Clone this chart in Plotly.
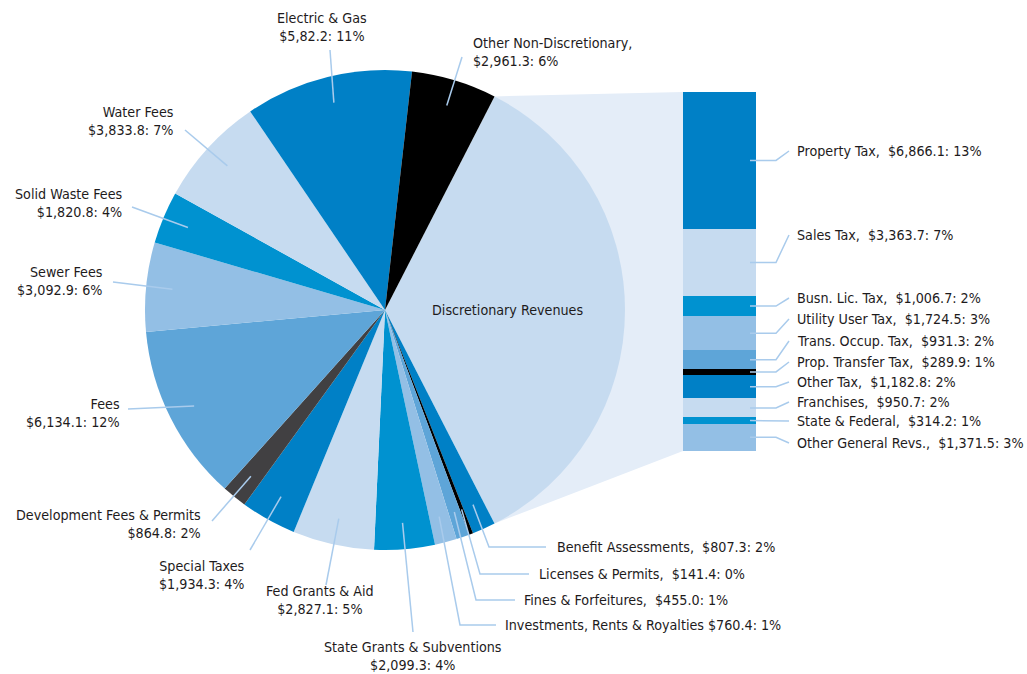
import math
import plotly.graph_objects as go

W, H = 1027, 674

# ---------------- data ----------------
pie_labels = ["Discretionary Revenues", "Benefit Assessments", "Licenses & Permits",
              "Fines & Forfeitures", "Investments, Rents & Royalties",
              "State Grants & Subventions", "Fed Grants & Aid", "Special Taxes",
              "Development Fees & Permits", "Fees", "Sewer Fees", "Solid Waste Fees",
              "Water Fees", "Electric & Gas", "Other Non-Discretionary"]
pie_nondisc_values = [807.3, 141.4, 455.0, 760.4, 2099.3, 2827.1, 1934.3, 864.8,
                      6134.1, 3092.9, 1820.8, 3833.8, 5820.0, 2961.3]
pie_texts = ["Benefit Assessments,  $807.3: 2%", "Licenses & Permits,  $141.4: 0%",
             "Fines & Forfeitures,  $455.0: 1%", "Investments, Rents & Royalties $760.4: 1%",
             "State Grants & Subventions<br>$2,099.3: 4%", "Fed Grants & Aid<br>$2,827.1: 5%",
             "Special Taxes<br>$1,934.3: 4%", "Development Fees & Permits<br>$864.8: 2%",
             "Fees<br>$6,134.1: 12%", "Sewer Fees<br>$3,092.9: 6%",
             "Solid Waste Fees<br>$1,820.8: 4%", "Water Fees<br>$3,833.8: 7%",
             "Electric & Gas<br>$5,82.2: 11%", "Other Non-Discretionary,<br>$2,961.3: 6%"]

bar_labels = ["Property Tax", "Sales Tax", "Busn. Lic. Tax", "Utility User Tax",
              "Trans. Occup. Tax", "Prop. Transfer Tax", "Other Tax", "Franchises",
              "State & Federal", "Other General Revs."]
bar_values = [6866.1, 3363.7, 1006.7, 1724.5, 931.3, 289.9, 1182.8, 950.7, 314.2, 1371.5]
bar_texts = ["Property Tax,  $6,866.1: 13%", "Sales Tax,  $3,363.7: 7%",
             "Busn. Lic. Tax,  $1,006.7: 2%", "Utility User Tax,  $1,724.5: 3%",
             "Trans. Occup. Tax,  $931.3: 2%", "Prop. Transfer Tax,  $289.9: 1%",
             "Other Tax,  $1,182.8: 2%", "Franchises,  $950.7: 2%",
             "State & Federal,  $314.2: 1%", "Other General Revs.,  $1,371.5: 3%"]

# ---------------- styles ----------------
C_DARK = "#0080c6"
C_LIGHT = "#c6dbf0"
C_CYAN = "#0092d0"
C_SKY = "#93bfe5"
C_MED = "#5ea5d8"
pie_colors = [C_LIGHT, C_DARK, "#000000", C_MED, C_SKY, C_CYAN, C_LIGHT, C_DARK,
              "#414042", C_MED, C_SKY, C_CYAN, C_LIGHT, C_DARK, "#000000"]
bar_colors = [C_DARK, C_LIGHT, C_CYAN, C_SKY, C_MED, "#000000", C_DARK, C_LIGHT, C_CYAN, C_SKY]
LINE_C = "#a9cbec"
TXT_C = "#1e1b1c"
FONT = "DejaVu Sans Condensed, Liberation Sans Narrow, Arial Narrow, sans-serif"
FS = 14.2

# geometry (pixels)
CX, CY, R = 385, 310, 240
BX0, BX1, BY0, BY1 = 683, 756, 92, 451

def px(x):
    return x / W

def py(y):
    return 1 - y / H

disc_total = sum(bar_values)
pie_values = [disc_total] + pie_nondisc_values
total = sum(pie_values)
disc_deg = disc_total / total * 360
rotation = 90 - disc_deg / 2

fig = go.Figure()

# connector polygon between pie and bar
a0 = math.radians(rotation)
a1 = math.radians(rotation + disc_deg)
p0 = (CX + R * math.sin(a0), CY - R * math.cos(a0))
p1 = (CX + R * math.sin(a1), CY - R * math.cos(a1))
shapes = [dict(type="path", xref="paper", yref="paper", layer="below",
               path=f"M {px(p0[0])},{py(p0[1])} L {px(BX0)},{py(BY0)} L {px(BX0)},{py(BY1)} "
                    f"L {px(p1[0])},{py(p1[1])} Z",
               fillcolor="#e4edf8", line=dict(width=0))]

fig.add_trace(go.Pie(
    labels=pie_labels, values=pie_values, sort=False, direction="clockwise",
    rotation=rotation, textinfo="none", hoverinfo="label+value",
    marker=dict(colors=pie_colors, line=dict(width=0)),
    domain=dict(x=[px(CX - R), px(CX + R)], y=[py(CY + R), py(CY - R)]),
    showlegend=False))

for lab, val, col in zip(bar_labels, bar_values, bar_colors):
    fig.add_trace(go.Bar(x=[0], y=[val], name=lab, marker=dict(color=col, line=dict(width=0)),
                         showlegend=False, hoverinfo="name+y"))

annotations = []

def line_path(pts):
    d = "M " + " L ".join(f"{px(x)},{py(y)}" for x, y in pts)
    return dict(type="path", xref="paper", yref="paper", path=d,
                line=dict(color=LINE_C, width=1.5), layer="above")

# pie labels: (text anchor x, y, xanchor, align, line end, bend)
pie_label_pos = [
    (555, 547, "left", "left", (546, 547), (489, 547)),
    (537, 574, "left", "left", (529, 574), (480, 574)),
    (522, 600, "left", "left", (515, 600), (476, 600)),
    (503, 625, "left", "left", (496, 625), (460, 625)),
    (413, 656, "center", "center", (413, 632), None),
    (320, 600, "center", "center", (326, 585), None),
    (202, 575, "center", "center", (250, 550), None),
    (203, 524, "right", "right", (212, 521), None),
    (122, 413, "right", "right", (128, 409), None),
    (105, 281, "right", "right", (113, 282), None),
    (125, 203, "right", "right", (132, 207), None),
    (176, 121, "right", "right", (185, 130), None),
    (322, 27, "center", "center", (330, 50), None),
    (471, 52, "left", "left", (462, 57), None),
]

cum = disc_total
for txt, val, pos in zip(pie_texts, pie_nondisc_values, pie_label_pos):
    mid = rotation + (cum + val / 2) / total * 360
    cum += val
    am = math.radians(mid)
    ra = R * 0.89
    anchor = (CX + ra * math.sin(am), CY - ra * math.cos(am))
    x, y, xa, al, end, bend = pos
    pts = [anchor] + ([bend] if bend else []) + [end]
    shapes.append(line_path(pts))
    annotations.append(dict(x=px(x), y=py(y), xref="paper", yref="paper", text=txt,
                            showarrow=False, xanchor=xa, yanchor="middle", align=al,
                            font=dict(family=FONT, size=FS, color=TXT_C)))

# bar labels
bar_label_y = [151, 235, 298, 319, 341, 362, 382, 402, 421, 443]
c = 0
for txt, val, ly in zip(bar_texts, bar_values, bar_label_y):
    ymid = BY0 + (c + val / 2) / disc_total * (BY1 - BY0)
    c += val
    if abs(ymid - ly) < 2:
        pts = [(750, ymid), (789, ly)]
    else:
        pts = [(750, ymid), (776, ymid), (789, ly)]
    shapes.append(line_path(pts))
    annotations.append(dict(x=px(795), y=py(ly), xref="paper", yref="paper", text=txt,
                            showarrow=False, xanchor="left", yanchor="middle", align="left",
                            font=dict(family=FONT, size=FS, color=TXT_C)))

annotations.append(dict(x=px(507), y=py(310), xref="paper", yref="paper",
                        text="Discretionary Revenues", showarrow=False,
                        xanchor="center", yanchor="middle",
                        font=dict(family=FONT, size=FS, color=TXT_C)))

fig.update_layout(
    width=W, height=H, margin=dict(l=0, r=0, t=0, b=0),
    paper_bgcolor="white", plot_bgcolor="rgba(0,0,0,0)",
    barmode="stack", bargap=0,
    xaxis=dict(domain=[px(BX0), px(BX1)], range=[-0.5, 0.5], visible=False, fixedrange=True),
    yaxis=dict(domain=[py(BY1), py(BY0)], range=[disc_total, 0], visible=False, fixedrange=True),
    shapes=shapes, annotations=annotations,
)

fig.write_html("out.html", config={"displayModeBar": False},
               post_script="document.body.style.margin='0';document.body.style.overflow='hidden';")
